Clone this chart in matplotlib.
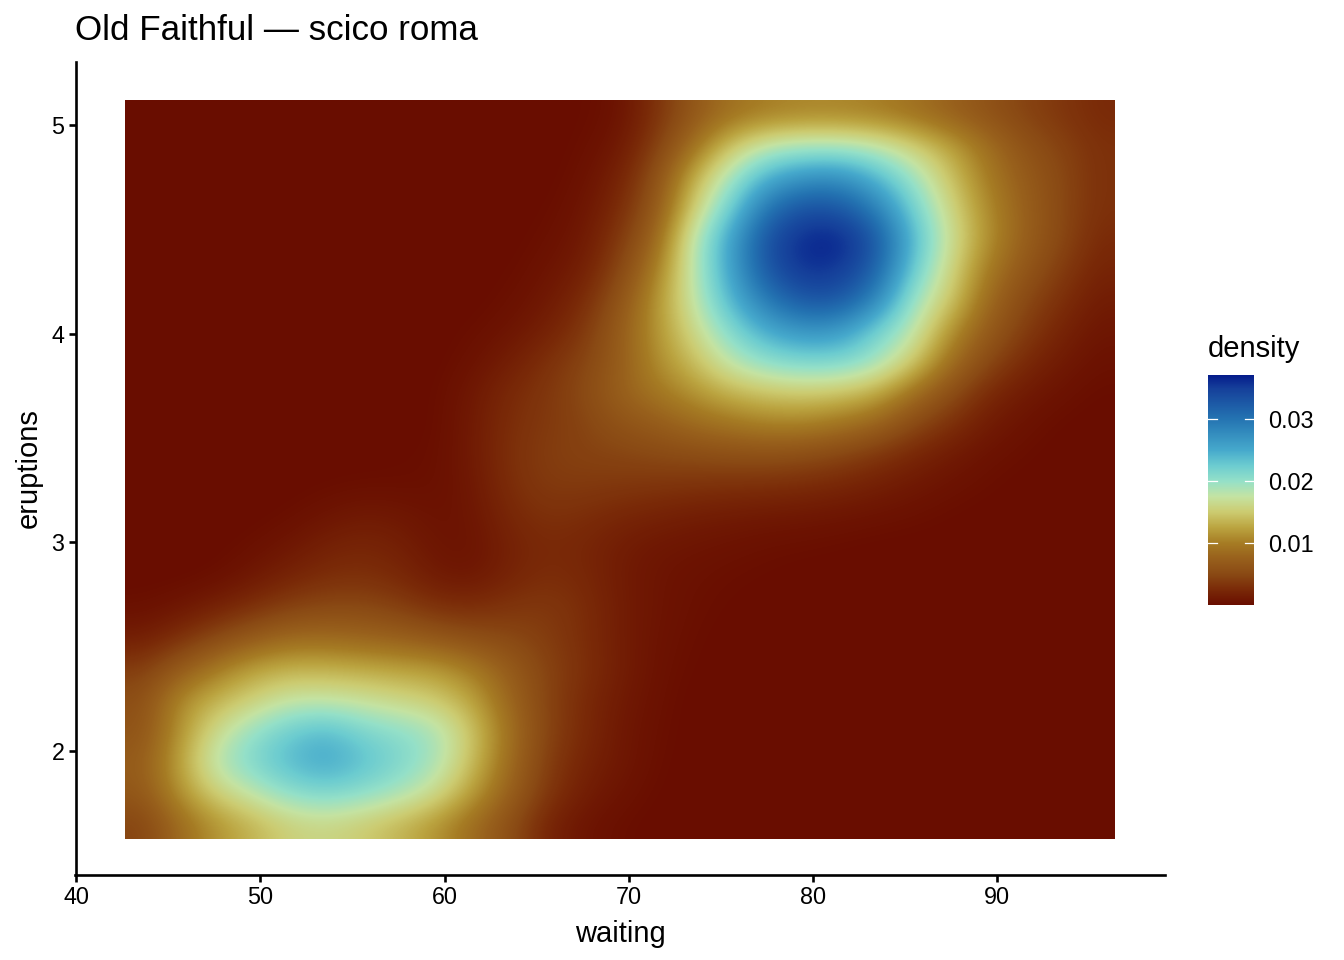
#!/usr/bin/python3

import numpy as np
import matplotlib
matplotlib.use('Agg')
import matplotlib.pyplot as plt
from matplotlib.colors import LinearSegmentedColormap

plt.rcParams['font.family'] = ['Liberation Sans', 'DejaVu Sans']

TITLE = 'Old Faithful \u2014 scico roma'

# value range of the raster
x_range = [42.65, 96.35]
y_range = [1.58, 5.12]

# density x 1000 on a coarse grid, top row first
density = [
    [0,0,0,0,0,0,0,0,0,0,0,0,.1,.5,3,6.5,9,10,10.5,10.5,10,9,7.5,6,4.5,3.5,2.5],
    [0,0,0,0,0,0,0,0,0,0,0,0,.2,1,4,9,14.5,18,19,19,18,15.5,12.5,9,6,4.5,3],
    [0,0,0,0,0,0,0,0,0,0,0,0,.4,1.8,5.5,13,19,24.5,27,27.5,24,19.5,14.5,10,7,5,3],
    [0,0,0,0,0,0,0,0,0,0,0,.1,.7,2.5,6.5,15,22,30,33.5,33,29,22,16,11,7.5,5,3],
    [0,0,0,0,0,0,0,0,0,0,0,.3,1,3.5,8,18,25.5,33.5,36.5,37,33,24,17,11.5,7.5,5,2.5],
    [0,0,0,0,0,0,0,0,0,0,.1,.6,1.5,4.5,10,18,25.5,33,36,35.5,32,22.5,16,10,6.5,4,2],
    [0,0,0,0,0,0,0,0,0,0,.3,1,2.5,6,11.5,17.5,24,29.5,33,33,28.5,19.5,15,8.5,5,3,1.3],
    [0,0,0,0,0,0,0,0,0,.2,.7,1.7,3.5,7,11.5,16,21,25,27,26.5,22,18,11.5,7,4,2,.8],
    [0,0,0,0,0,0,0,0,0,.5,1.5,3,4.5,7,11,14,18,20.5,21.5,21.5,19.5,15,9,5,2.5,1.2,.4],
    [0,0,0,0,0,0,0,0,.1,1,2.5,3.5,5,7.5,9.5,11.5,13.5,14.5,15,14.5,13,9,5.5,2.5,1.2,.5,.1],
    [0,0,0,0,0,0,0,0,.1,1.2,2.8,3.7,4.5,6,7,8.5,9.5,10.5,10.5,9.5,8,5,3,1.3,.5,.1,0],
    [0,0,0,0,0,0,0,.1,.2,1.2,3,4,4.4,4.6,5,5.3,5.6,5.7,5.4,4.6,3.4,2.2,1.2,.5,.2,0,0],
    [0,0,0,0,0,.1,.2,.2,.3,1,2.8,3.8,3.8,3.6,3.4,3.2,3,2.9,2.6,2.2,1.6,1,.5,.2,0,0,0],
    [0,0,0,0,.2,.7,1.2,1,.5,.8,2.3,3.1,2.8,2.2,1.8,1.4,1.2,1,.9,.7,.5,.3,.1,0,0,0,0],
    [0,0,0,.3,.9,1.8,2.2,1.7,.7,.6,1.8,2.5,2.2,1.4,.9,.7,.5,.3,.2,.1,0,0,0,0,0,0,0],
    [0,0,.2,1,2,2.8,3,2.4,1.2,.9,2,2.8,2.4,1.3,.7,.4,.2,.1,0,0,0,0,0,0,0,0,0],
    [.3,.8,1.8,3,4.3,5,5,4.2,3,2.8,3.4,3.7,2.8,1.4,.7,.3,.1,0,0,0,0,0,0,0,0,0,0],
    [1.5,3,5,7,8.5,8.5,8,7.5,6.5,5.5,5,4,2.8,1.4,.6,.2,0,0,0,0,0,0,0,0,0,0,0],
    [4,7,10,12.5,13.5,13.5,13,12.5,12,10,7,4.5,3,1.5,.5,.1,0,0,0,0,0,0,0,0,0,0,0],
    [5.5,11,13.5,15.5,17.5,17.5,17,16,15,12.5,8,4.5,2.5,1.2,.4,0,0,0,0,0,0,0,0,0,0,0,0],
    [6,11.5,16.5,20,22.5,24,21.5,20.5,19,14.5,9,4.5,2.5,1,.3,0,0,0,0,0,0,0,0,0,0,0,0],
    [7,12.5,18.5,21.5,24,25.5,23.5,21.5,19,14,8.5,4,2,1,.2,0,0,0,0,0,0,0,0,0,0,0,0],
    [6.5,11.5,15.5,18,20.5,21.5,20.5,19,16.5,12,7.5,3.5,1.5,.6,.1,0,0,0,0,0,0,0,0,0,0,0,0],
    [4.5,8.5,11.5,13.5,15.5,16,15,13.5,11.5,8.5,5.5,2,.7,.2,0,0,0,0,0,0,0,0,0,0,0,0,0],
]

# colour stops of the legend, density x 1000
stop_values = [0, 2.5, 5, 7.5, 10, 12.5, 15, 17.5, 20, 22.5, 25, 30, 35, 37.2]
stop_colors = ['#690d00', '#7a2a08', '#8a4a14', '#98601c', '#a67c24', '#bba440',
               '#cccb70', '#c4e3a2', '#94e0c8', '#6cccd0', '#46a9cc', '#2474b2',
               '#153f9a', '#041a8a']

bar_ticks = [10, 20, 30]
bar_labels = ['0.01', '0.02', '0.03']

W, H = 1344, 960

def px_axes(f, x0, y0, x1, y1):
    return f.add_axes([x0 / W, 1 - y1 / H, (x1 - x0) / W, (y1 - y0) / H])

cmap = LinearSegmentedColormap.from_list(
    'roma_r', [(v / stop_values[-1], c) for v, c in zip(stop_values, stop_colors)], N=512)

f = plt.figure(figsize=(W / 100, H / 100), dpi=100)
ax = px_axes(f, 75.5, 62, 1165, 875)

im = ax.imshow(density, cmap=cmap, vmin=stop_values[0], vmax=stop_values[-1],
               extent=[x_range[0], x_range[1], y_range[0], y_range[1]],
               interpolation='bicubic', aspect='auto', origin='upper')

ax.set_xlim(39.97, 99.1)
ax.set_ylim(1.406, 5.302)
ax.set_xticks([40, 50, 60, 70, 80, 90])
ax.set_yticks([2, 3, 4, 5])
ax.tick_params(length=5, width=1.9, labelsize=16.8, pad=3, color='black')
for s in ['top', 'right']:
    ax.spines[s].set_visible(False)
for s in ['left', 'bottom']:
    ax.spines[s].set_linewidth(1.9)

ax.set_xlabel('waiting', fontsize=21, labelpad=8)
ax.set_ylabel('eruptions', fontsize=21, labelpad=6)
f.text(75 / W, 1 - 39.5 / H, TITLE, fontsize=25.2, ha='left', va='baseline')

cax = px_axes(f, 1208, 374.5, 1254, 605)
cb = f.colorbar(im, cax=cax, ticks=bar_ticks)
cb.outline.set_visible(False)
cb.ax.set_yticklabels(bar_labels)
cb.ax.tick_params(length=0, labelsize=16.8, pad=10.5)
for t in bar_ticks:
    cb.ax.plot([0, 0.2], [t, t], color='white', lw=0.9, transform=cb.ax.get_yaxis_transform())
    cb.ax.plot([0.8, 1], [t, t], color='white', lw=0.9, transform=cb.ax.get_yaxis_transform())
f.text(1208 / W, 1 - 357 / H, 'density', fontsize=21, ha='left', va='baseline')

f.savefig('out.png', dpi=100)
